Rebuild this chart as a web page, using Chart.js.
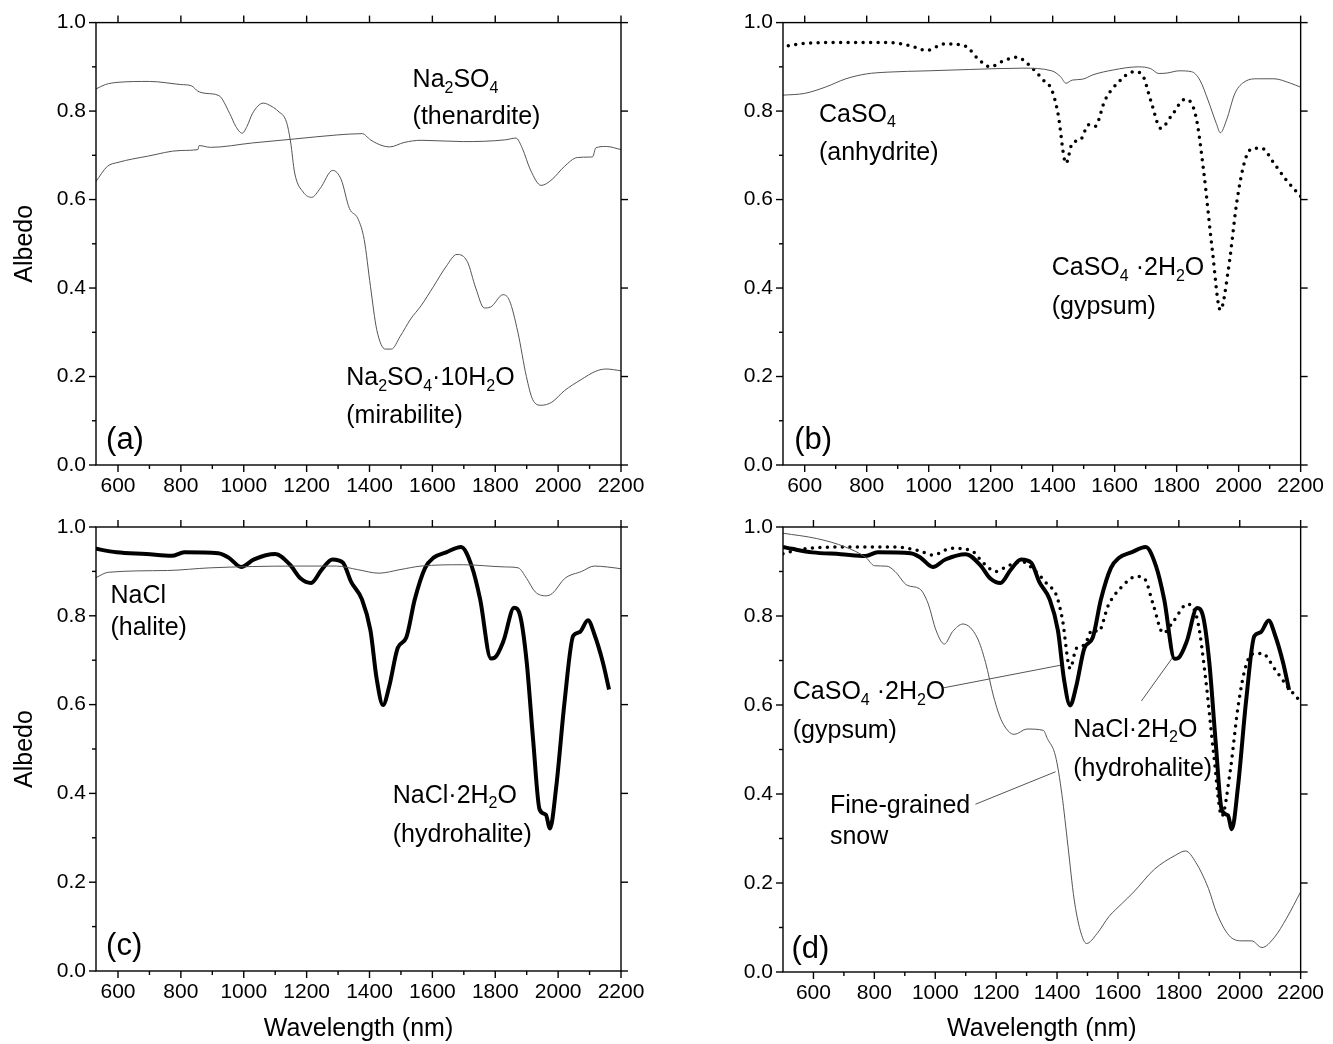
<!DOCTYPE html>
<html>
<head>
<meta charset="utf-8">
<script src="https://cdn.jsdelivr.net/npm/chart.js@4.4.0/dist/chart.umd.min.js"></script>
<style>
  body { margin: 0; background: #fff; }
  #wrap { position: relative; width: 1333px; height: 1044px; }
  canvas { position: absolute; }
</style>
</head>
<body>
<div id="wrap">
  <canvas id="pa" width="666" height="500" style="left:0;top:0"></canvas>
  <canvas id="pb" width="667" height="500" style="left:666px;top:0"></canvas>
  <canvas id="pc" width="666" height="544" style="left:0;top:500px"></canvas>
  <canvas id="pd" width="667" height="544" style="left:666px;top:500px"></canvas>
</div>
<script>
// ----- axis ticks -----
const xMajor = [600, 800, 1000, 1200, 1400, 1600, 1800, 2000, 2200]
const xMinor = [700, 900, 1100, 1300, 1500, 1700, 1900, 2100]
const yMajor = [0, 0.2, 0.4, 0.6, 0.8, 1.0]
const yMinor = [0.1, 0.3, 0.5, 0.7, 0.9]

// ----- (a) Na2SO4·10H2O (mirabilite) -----
const mirabWl = [530, 560, 600, 700, 800, 834, 854, 880, 921, 955, 975, 995, 1010, 1028, 1062, 1090, 1109, 1136, 1149, 1162, 1189, 1216, 1243, 1283, 1310, 1336, 1363, 1383, 1403, 1423, 1450, 1470, 1497, 1531, 1564, 1604, 1644, 1678, 1711, 1738, 1765, 1785, 1825, 1845, 1872, 1899, 1919, 1946, 1980, 2020, 2073, 2120, 2153, 2200]
const mirabAlb = [0.85, 0.86, 0.865, 0.867, 0.86, 0.857, 0.845, 0.84, 0.835, 0.795, 0.765, 0.75, 0.765, 0.795, 0.818, 0.81, 0.8, 0.775, 0.73, 0.66, 0.617, 0.605, 0.625, 0.666, 0.645, 0.58, 0.557, 0.51, 0.404, 0.306, 0.262, 0.262, 0.29, 0.33, 0.36, 0.404, 0.449, 0.476, 0.46, 0.4, 0.355, 0.357, 0.385, 0.372, 0.3, 0.2, 0.148, 0.135, 0.142, 0.168, 0.193, 0.212, 0.217, 0.213]

// ----- (a) Na2SO4 (thenardite) -----
const thenWl = [530, 566, 600, 694, 801, 854, 858, 894, 1028, 1162, 1296, 1377, 1403, 1440, 1464, 1510, 1564, 1698, 1832, 1866, 1886, 1912, 1946, 1980, 2020, 2061, 2100, 2110, 2120, 2153, 2200]
const thenAlb = [0.641, 0.675, 0.684, 0.698, 0.711, 0.713, 0.722, 0.718, 0.728, 0.737, 0.746, 0.749, 0.735, 0.722, 0.719, 0.729, 0.734, 0.731, 0.735, 0.739, 0.716, 0.667, 0.632, 0.645, 0.675, 0.695, 0.696, 0.697, 0.717, 0.72, 0.713]

// ----- (b) CaSO4 (anhydrite) -----
const anhyWl = [530, 600, 666, 733, 799, 866, 998, 1131, 1304, 1397, 1425, 1443, 1463, 1496, 1530, 1596, 1676, 1716, 1742, 1769, 1808, 1848, 1875, 1901, 1928, 1941, 1961, 1988, 2021, 2061, 2114, 2167, 2200]
const anhyAlb = [0.836, 0.84, 0.854, 0.873, 0.884, 0.888, 0.891, 0.894, 0.897, 0.891, 0.878, 0.863, 0.87, 0.872, 0.882, 0.893, 0.9, 0.896, 0.885, 0.886, 0.891, 0.889, 0.87, 0.825, 0.772, 0.751, 0.78, 0.84, 0.867, 0.873, 0.873, 0.863, 0.854]

// ----- (b),(d) CaSO4·2H2O (gypsum) -----
const gypWl = [500, 534, 600, 733, 866, 945, 992, 1052, 1118, 1158, 1198, 1237, 1284, 1330, 1370, 1397, 1417, 1443, 1463, 1490, 1516, 1536, 1569, 1609, 1662, 1689, 1716, 1749, 1782, 1828, 1862, 1888, 1915, 1941, 1968, 1995, 2021, 2048, 2074, 2114, 2154, 2200]
const gypAlb = [0.94, 0.946, 0.953, 0.955, 0.955, 0.947, 0.937, 0.952, 0.947, 0.919, 0.9, 0.912, 0.922, 0.9, 0.87, 0.848, 0.795, 0.682, 0.727, 0.735, 0.769, 0.765, 0.825, 0.863, 0.889, 0.882, 0.825, 0.761, 0.788, 0.827, 0.788, 0.659, 0.486, 0.35, 0.448, 0.599, 0.69, 0.716, 0.716, 0.682, 0.644, 0.607]

// ----- (c) NaCl (halite) -----
const haliteWl = [530, 569, 757, 892, 1161, 1295, 1362, 1430, 1497, 1564, 1698, 1833, 1873, 1900, 1927, 1961, 1981, 2021, 2075, 2115, 2156, 2200]
const haliteAlb = [0.886, 0.898, 0.902, 0.908, 0.912, 0.912, 0.904, 0.896, 0.904, 0.912, 0.915, 0.91, 0.908, 0.884, 0.854, 0.845, 0.85, 0.884, 0.9, 0.912, 0.91, 0.906]

// ----- (c),(d) NaCl·2H2O (hydrohalite) -----
const hydroWl = [500, 529, 596, 690, 771, 811, 919, 952, 992, 1033, 1100, 1147, 1181, 1214, 1248, 1282, 1315, 1342, 1376, 1403, 1423, 1443, 1463, 1490, 1517, 1544, 1577, 1604, 1644, 1691, 1725, 1752, 1786, 1799, 1826, 1860, 1880, 1900, 1921, 1941, 1961, 1974, 1994, 2021, 2048, 2068, 2095, 2115, 2142, 2162]
const hydroAlb = [0.955, 0.951, 0.943, 0.939, 0.935, 0.943, 0.941, 0.931, 0.91, 0.927, 0.939, 0.915, 0.884, 0.874, 0.904, 0.927, 0.92, 0.876, 0.837, 0.767, 0.657, 0.599, 0.642, 0.728, 0.751, 0.837, 0.908, 0.931, 0.943, 0.955, 0.912, 0.837, 0.704, 0.706, 0.743, 0.818, 0.798, 0.696, 0.516, 0.364, 0.352, 0.321, 0.415, 0.61, 0.755, 0.763, 0.79, 0.759, 0.696, 0.634]

// ----- (d) fine-grained snow -----
const snowWl = [500, 611, 705, 773, 800, 841, 868, 908, 949, 976, 1003, 1030, 1057, 1091, 1138, 1165, 1192, 1219, 1260, 1301, 1355, 1368, 1395, 1416, 1436, 1456, 1476, 1497, 1531, 1571, 1612, 1652, 1720, 1788, 1822, 1856, 1897, 1924, 1965, 2005, 2039, 2073, 2114, 2154, 2200]
const snowAlb = [0.986, 0.974, 0.955, 0.931, 0.913, 0.912, 0.9, 0.869, 0.861, 0.829, 0.767, 0.737, 0.765, 0.782, 0.751, 0.696, 0.618, 0.563, 0.534, 0.546, 0.543, 0.525, 0.485, 0.399, 0.282, 0.164, 0.094, 0.064, 0.086, 0.125, 0.153, 0.18, 0.231, 0.262, 0.272, 0.246, 0.188, 0.133, 0.082, 0.07, 0.07, 0.055, 0.078, 0.121, 0.18]

// ----- (d) leader lines: [wavelength, albedo] ends -----
const gypLeaderWl = [1023, 1416]
const gypLeaderAlb = [0.638, 0.69]
const hydroLeaderWl = [1677, 1781]
const hydroLeaderAlb = [0.609, 0.708]
const snowLeaderWl = [1132, 1395]
const snowLeaderAlb = [0.377, 0.45]

const FONT = 'Arial, "Liberation Sans", sans-serif'
const GRAY = '#555'
Chart.defaults.font.family = FONT
Chart.defaults.color = '#000'

const pts = (wl, alb) => wl.map((w, i) => ({ x: w, y: alb[i] }))

const thin = data => ({ data, borderColor: GRAY, borderWidth: 1, pointRadius: 0, cubicInterpolationMode: 'monotone' })
const thick = data => ({ data, borderColor: '#000', borderWidth: 4, pointRadius: 0, cubicInterpolationMode: 'monotone', borderJoinStyle: 'round' })
const dotted = data => ({ data, borderColor: '#000', borderWidth: 3.5, pointRadius: 0, cubicInterpolationMode: 'monotone', borderDash: [0, 7.5], borderCapStyle: 'round' })
const leader = data => ({ data, borderColor: GRAY, borderWidth: 1, pointRadius: 0, tension: 0 })

// frame + outward ticks (major & minor on left/bottom, major only on top/right)
const frameTicks = {
  id: 'frameTicks',
  afterDraw(chart) {
    const { ctx, chartArea: a, scales: { x, y } } = chart
    const seg = (x1, y1, x2, y2) => { ctx.beginPath(); ctx.moveTo(x1, y1); ctx.lineTo(x2, y2); ctx.stroke() }
    ctx.save()
    ctx.strokeStyle = '#000'
    ctx.lineWidth = 1.4
    ctx.strokeRect(a.left, a.top, a.width, a.height)
    xMajor.forEach(v => {
      const px = x.getPixelForValue(v)
      seg(px, a.bottom, px, a.bottom + 7)
      seg(px, a.top, px, a.top - 7)
    })
    xMinor.forEach(v => {
      const px = x.getPixelForValue(v)
      seg(px, a.bottom, px, a.bottom + 4)
    })
    yMajor.forEach(v => {
      const py = y.getPixelForValue(v)
      seg(a.left, py, a.left - 7, py)
      seg(a.right, py, a.right + 7, py)
    })
    yMinor.forEach(v => {
      const py = y.getPixelForValue(v)
      seg(a.left, py, a.left - 4, py)
    })
    ctx.restore()
  }
}

// text labels with subscripts ('_' marks the next char as subscript)
const notes = {
  id: 'notes',
  afterDraw(chart, args, opts) {
    const { ctx, scales: { x, y } } = chart
    ctx.save()
    ctx.fillStyle = '#000'
    ctx.textBaseline = 'middle'
    ctx.textAlign = 'left'
    ;(opts.items || []).forEach(it => {
      const size = it.size || 25
      let cx = x.getPixelForValue(it.x)
      const cy = y.getPixelForValue(it.y)
      const t = it.text
      for (let i = 0; i < t.length; i++) {
        let ch = t[i], sub = false
        if (ch === '_') { sub = true; ch = t[++i] }
        ctx.font = `${sub ? Math.round(size * 0.62) : size}px ${FONT}`
        ctx.fillText(ch, cx, sub ? cy + size * 0.32 : cy)
        cx += ctx.measureText(ch).width
      }
    })
    ctx.restore()
  }
}

function makeScales(xmin, yWidth, xHeight, yTitle, xTitle) {
  return {
    x: {
      type: 'linear', min: xmin, max: 2200,
      grid: { display: false, drawTicks: false },
      border: { display: false },
      afterBuildTicks: s => { s.ticks = xMajor.map(v => ({ value: v })) },
      afterFit: s => { s.height = xHeight },
      ticks: { font: { size: 21 }, padding: 9, maxRotation: 0, autoSkip: false, callback: v => String(v) },
      title: { display: xTitle, text: 'Wavelength (nm)', font: { size: 25 }, padding: { top: 0, bottom: 0 } },
    },
    y: {
      type: 'linear', min: 0, max: 1,
      grid: { display: false, drawTicks: false },
      border: { display: false },
      afterBuildTicks: s => { s.ticks = yMajor.map(v => ({ value: v })) },
      afterFit: s => { s.width = yWidth },
      ticks: { font: { size: 21 }, padding: 10, autoSkip: false, callback: v => v.toFixed(1) },
      title: { display: yTitle, text: 'Albedo', font: { size: 25 }, padding: { top: 10, bottom: 0 } },
    },
  }
}

function panel(id, datasets, items, layout) {
  return new Chart(document.getElementById(id), {
    type: 'line',
    data: { datasets },
    options: {
      responsive: false,
      animation: false,
      layout: { padding: layout.padding },
      plugins: { legend: { display: false }, tooltip: { enabled: false }, notes: { items } },
      scales: makeScales(layout.xmin, layout.yWidth, layout.xHeight, layout.yTitle, layout.xTitle),
    },
    plugins: [frameTicks, notes],
  })
}

// (a)
panel('pa',
  [thin(pts(mirabWl, mirabAlb)), thin(pts(thenWl, thenAlb))],
  [
    { x: 1537, y: 0.87, text: 'Na_2SO_4' },
    { x: 1537, y: 0.786, text: '(thenardite)' },
    { x: 1326, y: 0.196, text: 'Na_2SO_4·10H_2O' },
    { x: 1326, y: 0.11, text: '(mirabilite)' },
    { x: 562, y: 0.056, text: '(a)', size: 31 },
  ],
  { xmin: 530, yWidth: 96, xHeight: 35, yTitle: true, xTitle: false, padding: { top: 22, right: 45, left: 0, bottom: 0 } })

// (b)
panel('pb',
  [thin(pts(anhyWl, anhyAlb)), dotted(pts(gypWl, gypAlb))],
  [
    { x: 646, y: 0.791, text: 'CaSO_4' },
    { x: 646, y: 0.705, text: '(anhydrite)' },
    { x: 1397, y: 0.445, text: 'CaSO_4 ·2H_2O' },
    { x: 1397, y: 0.356, text: '(gypsum)' },
    { x: 566, y: 0.056, text: '(b)', size: 31 },
  ],
  { xmin: 530, yWidth: 117, xHeight: 35, yTitle: false, xTitle: false, padding: { top: 22, right: 26, left: 0, bottom: 0 } })

// (c)
panel('pc',
  [thin(pts(haliteWl, haliteAlb)), thick(pts(hydroWl, hydroAlb))],
  [
    { x: 576, y: 0.844, text: 'NaCl' },
    { x: 576, y: 0.772, text: '(halite)' },
    { x: 1474, y: 0.395, text: 'NaCl·2H_2O' },
    { x: 1474, y: 0.307, text: '(hydrohalite)' },
    { x: 562, y: 0.056, text: '(c)', size: 31 },
  ],
  { xmin: 530, yWidth: 96, xHeight: 73, yTitle: true, xTitle: true, padding: { top: 27, right: 45, left: 0, bottom: 0 } })

// (d)
panel('pd',
  [
    thin(pts(snowWl, snowAlb)),
    dotted(pts(gypWl, gypAlb)),
    thick(pts(hydroWl, hydroAlb)),
    leader(pts(gypLeaderWl, gypLeaderAlb)),
    leader(pts(hydroLeaderWl, hydroLeaderAlb)),
    leader(pts(snowLeaderWl, snowLeaderAlb)),
  ],
  [
    { x: 532, y: 0.628, text: 'CaSO_4 ·2H_2O' },
    { x: 532, y: 0.541, text: '(gypsum)' },
    { x: 1453, y: 0.544, text: 'NaCl·2H_2O' },
    { x: 1453, y: 0.456, text: '(hydrohalite)' },
    { x: 654, y: 0.373, text: 'Fine-grained' },
    { x: 654, y: 0.304, text: 'snow' },
    { x: 528, y: 0.05, text: '(d)', size: 31 },
  ],
  { xmin: 500, yWidth: 117, xHeight: 72, yTitle: false, xTitle: true, padding: { top: 27, right: 26, left: 0, bottom: 0 } })
</script>
</body>
</html>
